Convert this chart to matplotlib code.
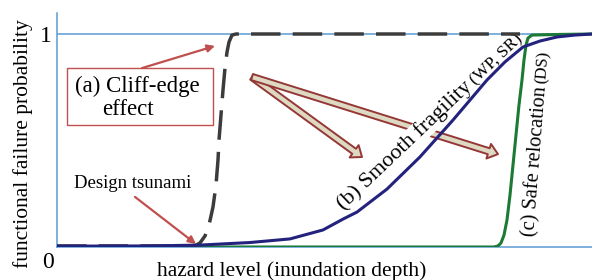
import matplotlib
matplotlib.use("Agg")
import matplotlib.pyplot as plt
from matplotlib.patches import Rectangle, FancyArrowPatch
from matplotlib.transforms import offset_copy
import numpy as np

plt.rcParams['font.family'] = ['Liberation Serif', 'DejaVu Serif']

# ---- data (hazard level in arbitrary units, probability 0..1) ----
cliff_x = [0, 128, 138, 143, 148, 152, 156, 159, 161, 162, 164, 166, 168, 170, 172, 175, 179, 463]
cliff_y = [0.005, 0.005, 0.006, 0.019, 0.052, 0.103, 0.188, 0.291, 0.408, 0.502, 0.620, 0.737,
           0.840, 0.915, 0.962, 0.995, 1.0, 1.0]

smooth_x = [0, 93, 143, 193, 233, 266, 286, 300, 330, 363, 396, 430, 448, 466, 483, 500, 518, 535]
smooth_y = [0.004, 0.005, 0.009, 0.021, 0.038, 0.080, 0.131, 0.164, 0.272, 0.423, 0.596, 0.784,
            0.869, 0.939, 0.967, 0.986, 0.995, 1.0]

reloc_x = [0, 437, 441, 444, 447, 450, 453, 456, 459, 462, 465, 467, 469, 471, 475, 503, 535]
reloc_y = [0, 0, 0.005, 0.019, 0.056, 0.127, 0.244, 0.385, 0.526, 0.667, 0.784, 0.878, 0.948,
           0.981, 0.995, 0.998, 1.0]

ytick_vals = [0, 1]
ytick_labels = ['0', '1']

BLUE = '#5b9bd5'
NAVY = '#23237e'
GREEN = '#1b7a34'
DASH = '#3c3c3c'
RED = '#c0504d'
DRED = '#953735'
TAN = '#ddd9c3'

fig = plt.figure(figsize=(5.92, 2.80), dpi=100)
ax = fig.add_axes([57/592, 33/280, 535/592, 234/280])
ax.set_xlim(0, 535)
ax.set_ylim(0, 234/213)
for s in ['top', 'right']:
    ax.spines[s].set_visible(False)
for s in ['left', 'bottom']:
    ax.spines[s].set_color(BLUE)
    ax.spines[s].set_linewidth(1.1)
ax.set_xticks([])
ax.set_yticks([])
ax.axhline(1.0, color=BLUE, lw=1.1, zorder=1)

# tick labels
ax.text(-11, 0.962, ytick_labels[1], ha='center', va='baseline', fontsize=17)
ax.text(-9, -0.0986, ytick_labels[0], ha='center', va='baseline', fontsize=17, clip_on=False)

fig.text(23/592, 136/280, 'functional failure probability', rotation=90,
         ha='center', va='center', fontsize=15.5)
fig.text(292/592, 9/280, 'hazard level (inundation depth)', ha='center', va='center',
         fontsize=15.5)

# curves
ax.plot(reloc_x, reloc_y, color=GREEN, lw=2.2, zorder=4, solid_joinstyle='round')
ax.plot(cliff_x, cliff_y, color=DASH, lw=2.5, dashes=(8.5, 3.5), zorder=4)
ax.plot(smooth_x, smooth_y, color=NAVY, lw=2.2, zorder=5, solid_joinstyle='round')

# box (a)
ax.add_patch(Rectangle((10, 0.573), 146, 0.267, fc='white', ec=RED, lw=1.0, zorder=3))
ax.text(80, 0.728, '(a) Cliff-edge', ha='center', va='baseline', fontsize=16.5, zorder=4)
ax.text(71, 0.620, 'effect', ha='center', va='baseline', fontsize=16.5, zorder=4)
ax.annotate('', xy=(158, 0.944), xytext=(85, 0.840),
            arrowprops=dict(arrowstyle='-|>', color=RED, lw=1.6, mutation_scale=11,
                            shrinkA=0, shrinkB=0), zorder=3)

# design tsunami
ax.text(76, 0.277, 'Design tsunami', ha='center', va='baseline', fontsize=13.5)
ax.annotate('', xy=(139, 0.014), xytext=(78, 0.235),
            arrowprops=dict(arrowstyle='-|>', color=RED, lw=1.6, mutation_scale=11,
                            shrinkA=0, shrinkB=0), zorder=3)

# fat arrows
for tip in [(305, 0.4225), (441, 0.436)]:
    ax.add_patch(FancyArrowPatch((195, 0.798), tip,
                                 arrowstyle='simple,head_length=7,head_width=11,tail_width=4.5',
                                 mutation_scale=1, fc=TAN, ec=DRED, lw=1.4,
                                 shrinkA=0, shrinkB=0, zorder=2))

# rotated multi-size labels
def run_text(x, y, parts, rot, bbox=None, zorder=3):
    renderer = fig.canvas.get_renderer()
    off = 0.0
    ang = np.deg2rad(rot)
    for s, fs in parts:
        tr = offset_copy(ax.transData, fig=fig, x=off*np.cos(ang)*72/fig.dpi,
                         y=off*np.sin(ang)*72/fig.dpi, units='points')
        t = ax.text(x, y, s, fontsize=fs, ha='left', va='baseline', transform=tr,
                    rotation=0, rotation_mode='anchor', zorder=zorder)
        w = t.get_window_extent(renderer).width
        t.set_rotation(rot)
        if bbox is not None:
            t.set_bbox(bbox)
        off += w + 3

run_text(287, 0.172, [('(b) Smooth fragility', 16), ('(WP, SR)', 12.5)], 43.5,
         bbox=dict(fc='white', ec='none', pad=0.5))
run_text(477, 0.047, [('(c) Safe relocation', 14.7), ('(DS)', 12)], 85.5)

fig.savefig('out.png', dpi=100)
